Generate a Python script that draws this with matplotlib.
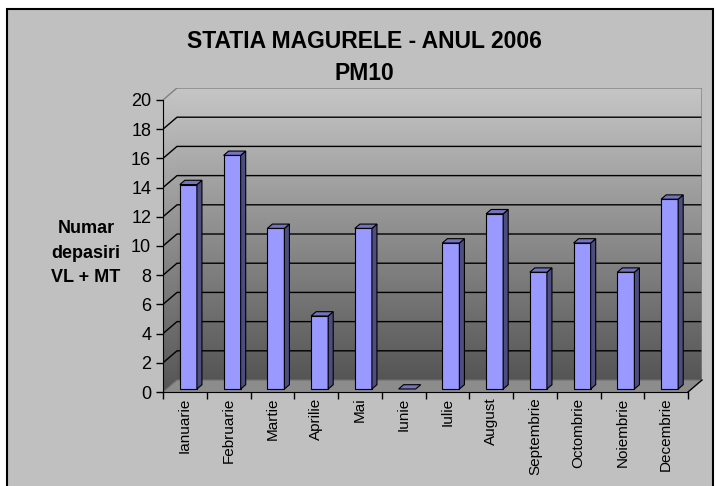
import numpy as np
import matplotlib.pyplot as plt
from matplotlib.patches import Polygon, Rectangle
from matplotlib.colors import LinearSegmentedColormap

luni = ['Ianuarie', 'Februarie', 'Martie', 'Aprilie', 'Mai', 'Iunie',
        'Iulie', 'August', 'Septembrie', 'Octombrie', 'Noiembrie', 'Decembrie']
depasiri = [14, 16, 11, 5, 11, 0, 10, 12, 8, 10, 8, 13]
y_ticks = list(range(0, 21, 2))

plt.rcParams['font.family'] = ['Liberation Sans', 'DejaVu Sans']

# adancime 3D (in unitati de date)
DX = 0.32
DY = 0.82
n = len(luni)
ymax = 20
w = 0.39      # latime bara
f0 = 0.25     # pozitia fetei din fata a barei in adancime
fd = 0.36     # adancimea barei

fig = plt.figure(figsize=(7.19, 4.86), dpi=100)
fig.patch.set_facecolor('white')
fig.add_artist(Rectangle((7 / 719, -0.02), 706 / 719, 1.02 - 9 / 486,
                         transform=fig.transFigure, facecolor='#C0C0C0',
                         edgecolor='black', lw=1.5, zorder=0))

ax = fig.add_axes([163 / 719, 1 - 392 / 486, (702 - 163) / 719, (392 - 88) / 486])
ax.set_facecolor('none')

# pereti cu gradient
cmap = LinearSegmentedColormap.from_list('perete', ['#555555', '#C6C6C6'])
grad = np.linspace(0, 1, 256).reshape(-1, 1)
ax.imshow(grad, cmap=cmap, origin='lower', aspect='auto',
          extent=(DX, n + DX, DY, ymax + DY), zorder=1)
side = Polygon([(0, 0), (DX, DY), (DX, ymax + DY), (0, ymax)], closed=True,
               facecolor='none', edgecolor='none')
ax.add_patch(side)
im2 = ax.imshow(grad, cmap=cmap, origin='lower', aspect='auto',
                extent=(0, DX, 0, ymax + DY), zorder=1)
im2.set_clip_path(side)
ax.set_xlim(0, n + DX)
ax.set_ylim(0, ymax + DY)

# podea
ax.add_patch(Polygon([(0, 0), (n, 0), (n + DX, DY), (DX, DY)], closed=True,
                     facecolor='#8C8C8C', edgecolor='none', zorder=2))

# linii de grila
for v in y_ticks[1:-1]:
    ax.plot([0, DX, n + DX], [v, v + DY, v + DY], color='black', lw=1, zorder=3)
ax.plot([0, DX, n + DX, n + DX], [ymax, ymax + DY, ymax + DY, DY],
        color='#808080', lw=1, zorder=3)
ax.plot([0, DX, n + DX], [0, DY, DY], color='#707070', lw=0.8, zorder=3)
ax.plot([n, n + DX], [0, DY], color='black', lw=1, zorder=6, clip_on=False)

# bare 3D
for i, v in enumerate(depasiri):
    x0 = i + 0.5 - w / 2 + f0 * DX
    y0 = f0 * DY
    ox, oy = fd * DX, fd * DY
    if v > 0:
        ax.add_patch(Rectangle((x0, y0), w, v, facecolor='#9999FF',
                               edgecolor='black', lw=0.8, zorder=5))
        ax.add_patch(Polygon([(x0 + w, y0), (x0 + w + ox, y0 + oy),
                              (x0 + w + ox, y0 + v + oy), (x0 + w, y0 + v)],
                             closed=True, facecolor='#4D4D80',
                             edgecolor='black', lw=0.8, zorder=5))
    ax.add_patch(Polygon([(x0, y0 + v), (x0 + w, y0 + v),
                          (x0 + w + ox, y0 + v + oy), (x0 + ox, y0 + v + oy)],
                         closed=True, facecolor='#7373BF',
                         edgecolor='black', lw=0.8, zorder=5))

# axe
for s in ['top', 'right']:
    ax.spines[s].set_visible(False)
ax.spines['left'].set_bounds(0, ymax)
ax.spines['bottom'].set_bounds(0, n)
ax.spines['left'].set_zorder(6)
ax.spines['bottom'].set_zorder(6)

ax.set_yticks(y_ticks)
ax.set_yticklabels([str(t) for t in y_ticks], fontsize=13)
ax.tick_params(axis='y', direction='out', length=5, width=1, pad=3.5)

ax.set_xticks(range(n + 1))
ax.set_xticklabels([''] * (n + 1))
ax.set_xticks([i + 0.5 for i in range(n)], minor=True)
ax.set_xticklabels(luni, minor=True, rotation=90, fontsize=11)
ax.tick_params(axis='x', which='major', direction='out', length=5, width=1)
ax.tick_params(axis='x', which='minor', length=0, pad=4)

fig.text(364 / 719, 1 - 41 / 486, 'STATIA MAGURELE - ANUL 2006',
         fontsize=16.5, fontweight='bold', ha='center', va='center')
fig.text(364 / 719, 1 - 73 / 486, 'PM10',
         fontsize=16.5, fontweight='bold', ha='center', va='center')
fig.text(86 / 719, 1 - 253 / 486, 'Numar\ndepasiri\nVL + MT',
         fontsize=13, fontweight='bold', ha='center', va='center',
         linespacing=1.55)

fig.savefig('out.png', dpi=100)
